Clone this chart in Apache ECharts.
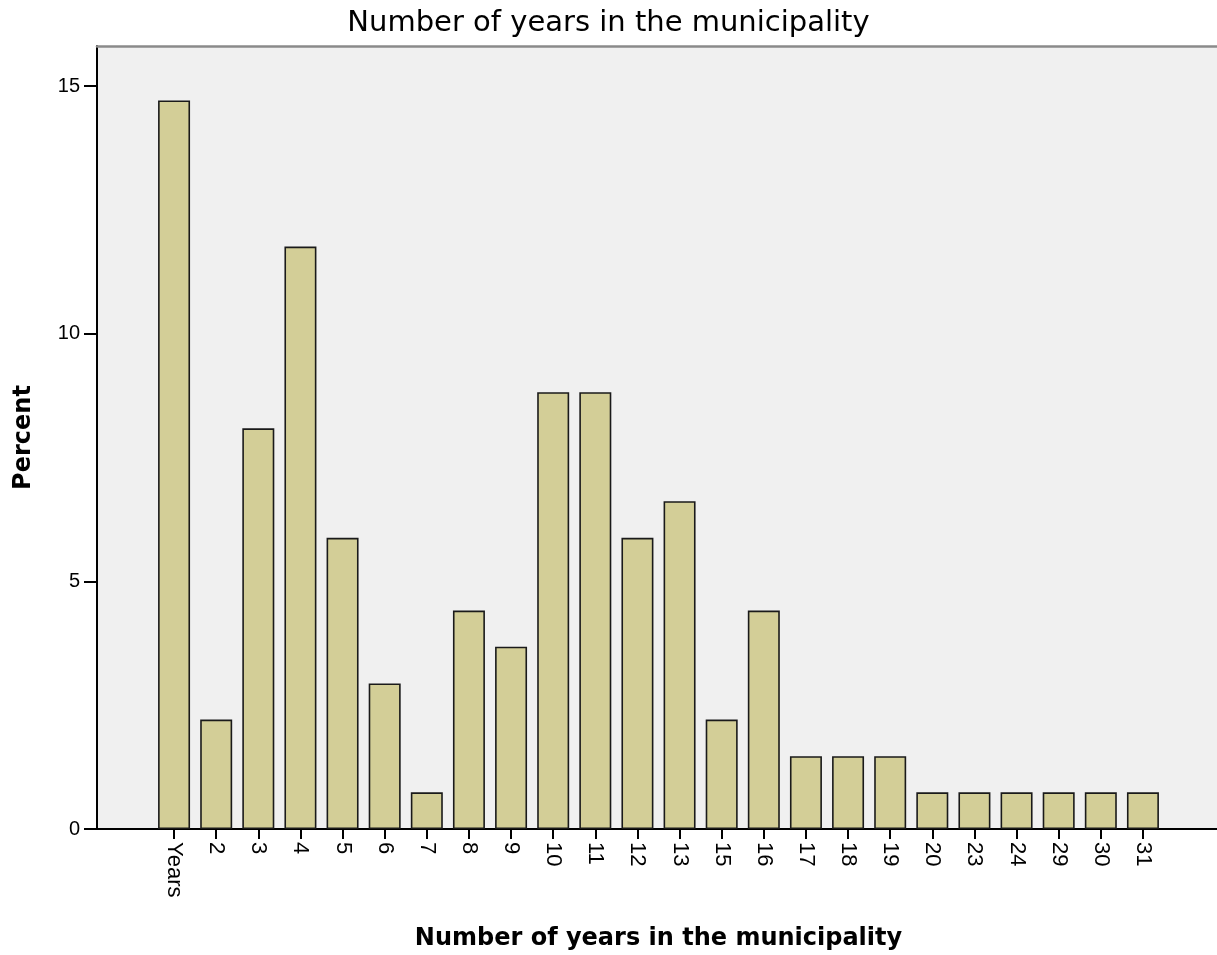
<!DOCTYPE html>
<html>
<head>
<meta charset="utf-8">
<script src="https://cdn.jsdelivr.net/npm/echarts@6/dist/echarts.min.js"></script>
<style>html,body{margin:0;padding:0;background:#fff}#c{width:1217px;height:955px}</style>
</head>
<body>
<div id="c"></div>
<script>
const categories = ['Years','2','3','4','5','6','7','8','9','10','11','12','13','15','16','17','18','19','20','23','24','29','30','31'];
const percents = [14.71,2.21,8.09,11.76,5.88,2.94,0.74,4.41,3.68,8.82,8.82,5.88,6.62,2.21,4.41,1.47,1.47,1.47,0.74,0.74,0.74,0.74,0.74,0.74];
const yTicks = [0,5,10,15];
const titleText = 'Number of years in the municipality';
const xTitle = 'Number of years in the municipality';
const yTitle = 'Percent';

const FONT = '"Liberation Sans", Arial, sans-serif';
const WIDE = '"DejaVu Sans", sans-serif';
const YMAX = 15.81;
const chart = echarts.init(document.getElementById('c'));
chart.setOption({
  animation: false,
  backgroundColor: '#ffffff',
  title: {text: titleText, left: 'center', top: 4,
    textStyle: {fontFamily: WIDE, fontSize: 29, fontWeight: 'normal', color: '#000'}},
  grid: [
    {left: 97, right: 0, top: 46, bottom: 126, containLabel: false, outerBoundsMode: 'none',
      show: true, backgroundColor: '#f0f0f0', borderWidth: 0},
    {left: 153, right: 53, top: 46, bottom: 126, containLabel: false, outerBoundsMode: 'none'}
  ],
  xAxis: [
    {gridIndex: 0, type: 'value', min: 0, max: 1, position: 'bottom',
      axisLine: {show: true, onZero: false, lineStyle: {color: '#000', width: 2}},
      axisTick: {show: false}, axisLabel: {show: false}, splitLine: {show: false}},
    {gridIndex: 0, type: 'value', min: 0, max: 1, position: 'top',
      axisLine: {show: true, onZero: false, lineStyle: {color: '#8a8a8a', width: 2.5}},
      axisTick: {show: false}, axisLabel: {show: false}, splitLine: {show: false}},
    {gridIndex: 1, type: 'category', data: categories, position: 'bottom',
      axisLine: {show: false},
      axisTick: {show: true, alignWithLabel: true, length: 10, lineStyle: {color: '#000', width: 2}},
      axisLabel: {rotate: -90, margin: 13, fontFamily: FONT, fontSize: 22, color: '#000', interval: 0},
      name: xTitle, nameLocation: 'middle', nameGap: 98,
      nameTextStyle: {fontFamily: WIDE, fontSize: 24, fontWeight: 'bold', color: '#000'}}
  ],
  yAxis: [
    {gridIndex: 0, type: 'value', min: 0, max: YMAX, interval: 5,
      axisLine: {show: true, lineStyle: {color: '#000', width: 2}},
      axisTick: {show: true, length: 13, customValues: yTicks, lineStyle: {color: '#000', width: 2}},
      axisLabel: {margin: 17, fontFamily: FONT, fontSize: 20, color: '#000', customValues: yTicks},
      splitLine: {show: false},
      name: yTitle, nameLocation: 'middle', nameGap: 61, nameRotate: 90,
      nameTextStyle: {fontFamily: WIDE, fontSize: 24, fontWeight: 'bold', color: '#000'}},
    {gridIndex: 1, type: 'value', min: 0, max: YMAX, show: false}
  ],
  series: [{
    type: 'bar', xAxisIndex: 2, yAxisIndex: 1, data: percents,
    barWidth: 32,
    itemStyle: {color: '#d3ce97', borderColor: '#1a1a1a', borderWidth: 1.6}
  }]
});
</script>
</body>
</html>
